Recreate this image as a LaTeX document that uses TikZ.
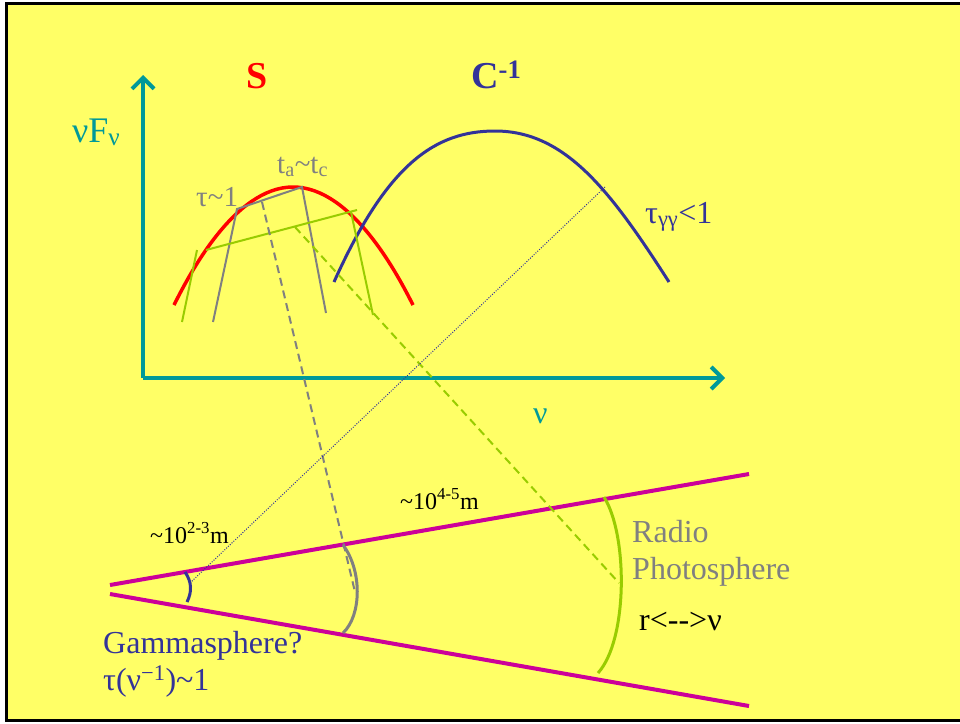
\documentclass[tikz,border=0pt]{standalone}
\usepackage{fontspec}
\setmainfont{Liberation Serif}
\usepackage{xcolor}
\usetikzlibrary{arrows.meta}
\definecolor{slideyellow}{RGB}{255,255,102}
\definecolor{axisteal}{RGB}{0,153,153}
\definecolor{sred}{RGB}{255,0,0}
\definecolor{cblue}{RGB}{51,51,153}
\definecolor{specgray}{RGB}{128,128,128}
\definecolor{radgreen}{RGB}{153,204,0}
\definecolor{conemag}{RGB}{204,0,153}
\newcommand{\tl}{\textasciitilde}

\begin{document}
\begin{tikzpicture}[
  x=1pt, y=-1pt,
  lbl/.style={anchor=base west, inner sep=0pt, font=\fontsize{32}{37}\selectfont},
  biglbl/.style={lbl, font=\fontsize{38}{42}\selectfont\bfseries},
  midlbl/.style={lbl, font=\fontsize{29}{33}\selectfont},
  smalllbl/.style={lbl, font=\fontsize{24}{28}\selectfont},
  axis/.style={draw=axisteal, line width=4pt, -{Straight Barb[length=11pt,width=22pt]}},
  spec/.style={line width=3.5pt},
  bracket/.style={line width=2pt},
  cone/.style={draw=conemag, line width=4pt},
  arc/.style={line width=3pt},
  gdash/.style={line width=2pt, dash pattern=on 8pt off 5pt},
  bdot/.style={line width=1pt, cblue, dash pattern=on 1pt off 1.5pt},
]

% Slide background and frame
\useasboundingbox (0,0) rectangle (960,723);
\fill[white] (0,0) rectangle (960,723);
\fill[slideyellow] (6,3) rectangle (960,720);
\draw[line width=3pt, black] (960,3) -- (6,3) -- (6,720) -- (960,720);

% Axes
\coordinate (origin) at (143,378);
\coordinate (ytop) at (143,75);
\coordinate (xend) at (725,378);
\draw[axis] (origin) -- (ytop);
\draw[axis] (origin) -- (xend);
\node[lbl, axisteal, font=\fontsize{36}{40}\selectfont] (ylabel) at (72,142) {νF\textsubscript{ν}};
\node[lbl, axisteal] (xlabel) at (533,423) {ν};

% Spectra
\node[biglbl, sred] (slabel) at (246,88) {S};
\node[biglbl, cblue] (clabel) at (471,88) {C\textsuperscript{-1}};
\draw[spec, sred] (174,305) parabola bend (293,187) (413,305);
\draw[spec, cblue, line width=3pt] (334,282) .. controls (387,164) and (435,131) .. (495,131)
  .. controls (565,131) and (610,190) .. (669,282);
\node[lbl, cblue] (tgg) at (645,223) {τ\textsubscript{γγ}<1};

% Gray optical-depth bracket
\draw[bracket, specgray] (213,322) -- (237,209) -- (302,187) -- (326,313);
\node[midlbl, specgray] (taulbl) at (196,206) {τ\tl 1};
\node[midlbl, specgray] (tatc) at (277,173) {t\textsubscript{a}\tl t\textsubscript{c}};

% Green radio bracket
\draw[bracket, radgreen] (182,322) -- (197,250);
\draw[bracket, radgreen] (206,250) -- (357,210);
\draw[bracket, radgreen] (351,212) -- (373,315);

% Cone
\coordinate (upA) at (110,585);
\coordinate (upB) at (749,474);
\coordinate (loA) at (110,594);
\coordinate (loB) at (749,706);
\draw[cone] (upA) -- (upB);
\draw[cone] (loA) -- (loB);

% Spheres inside the cone
\draw[arc, cblue] (185,572) .. controls (192,582) and (192,592) .. (187,602);
\draw[arc, specgray] (343,545) .. controls (362,570) and (362,615) .. (343,633);
\draw[arc, radgreen] (604,497) .. controls (628,535) and (628,640) .. (598,673);

% Projections
\coordinate (graytop) at (262,202);
\coordinate (graysph) at (355,592);
\coordinate (greentop) at (295,227);
\coordinate (greensph) at (619,583);
\coordinate (bluetop) at (605,187);
\coordinate (bluesph) at (190,583);
\draw[gdash, specgray] (graytop) -- (graysph);
\draw[gdash, radgreen] (greentop) -- (greensph);
\draw[bdot] (bluetop) -- (bluesph);

% Cone labels
\node[smalllbl] (r23) at (150,543) {\tl 10\textsuperscript{2-3}m};
\node[smalllbl] (r45) at (400,509) {\tl 10\textsuperscript{4-5}m};
\node[lbl, specgray] (radio) at (632,542) {Radio};
\node[lbl, specgray] (photo) at (632,579) {Photosphere};
\node[lbl] (rnu) at (639,630) {r<-{}->ν};
\node[lbl, cblue] (gamma) at (103,653) {Gammasphere?};
\node[lbl, cblue] (taunu) at (103,690) {τ(ν\textsuperscript{−1})\tl 1};

\end{tikzpicture}
\end{document}
